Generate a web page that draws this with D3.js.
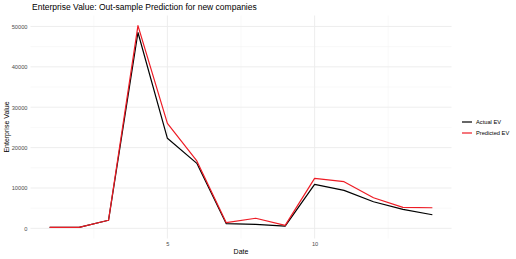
<!DOCTYPE html>
<html><head><meta charset="utf-8">
<script src="https://cdn.jsdelivr.net/npm/d3@7"></script>
<style>body{margin:0;background:#fff}svg{display:block;font-family:"Liberation Sans",Arial,sans-serif}</style>
</head><body>
<svg id="c" width="516" height="259"></svg>
<script>
const dates = [1,2,3,4,5,6,7,8,9,10,11,12,13,14];
const actualEV = [250,250,2000,48500,22300,16100,1150,1000,570,10900,9400,6600,4700,3370];
const predictedEV = [250,250,2000,50200,26000,16700,1400,2500,740,12370,11550,7580,5200,5100];
const yTicks = [0,10000,20000,30000,40000,50000];
const xTicks = [5,10];
const seriesNames = ["Actual EV","Predicted EV"];
const seriesColors = ["#000000","#ee1c25"];

const svg = d3.select("#c");
const L = 30.5, R = 451.5, T = 15.5, B = 238.5;
const x = d3.scaleLinear().domain([0.35,14.65]).range([L,R]);
const y = d3.scaleLinear().domain([-2510,52710]).range([B,T]);

const g = svg.append("g");
const yMinor = [5000,15000,25000,35000,45000];
const xMinor = [2.5,7.5,12.5];
g.selectAll(".ym").data(yMinor).join("line").attr("x1",L).attr("x2",R)
 .attr("y1",d=>y(d)).attr("y2",d=>y(d)).attr("stroke","#f2f2f2").attr("stroke-width",0.5);
g.selectAll(".xm").data(xMinor).join("line").attr("y1",T).attr("y2",B)
 .attr("x1",d=>x(d)).attr("x2",d=>x(d)).attr("stroke","#f2f2f2").attr("stroke-width",0.5);
g.selectAll(".yM").data(yTicks).join("line").attr("x1",L).attr("x2",R)
 .attr("y1",d=>y(d)).attr("y2",d=>y(d)).attr("stroke","#ebebeb").attr("stroke-width",0.9);
g.selectAll(".xM").data(xTicks).join("line").attr("y1",T).attr("y2",B)
 .attr("x1",d=>x(d)).attr("x2",d=>x(d)).attr("stroke","#ebebeb").attr("stroke-width",0.9);

const ya = svg.append("g").attr("transform",`translate(${L},0)`)
 .call(d3.axisLeft(y).tickValues(yTicks).tickSize(0).tickPadding(3).tickFormat(d3.format("d")));
const xa = svg.append("g").attr("transform",`translate(0,${B})`)
 .call(d3.axisBottom(x).tickValues(xTicks).tickSize(0).tickPadding(3));
[ya,xa].forEach(a=>{a.select(".domain").remove();
 a.selectAll("text").attr("fill","#4d4d4d").attr("font-size","5.7px").attr("font-family","Liberation Sans, Arial, sans-serif");});

const line = d3.line().x((d,i)=>x(dates[i])).y(d=>y(d));
[actualEV,predictedEV].forEach((s,k)=>{
 svg.append("path").attr("d",line(s)).attr("fill","none")
  .attr("stroke",seriesColors[k]).attr("stroke-width",1.2).attr("stroke-linejoin","round");
});

svg.append("text").attr("x",32).attr("y",10).attr("font-size","8.5px").attr("fill","#000")
 .text("Enterprise Value: Out-sample Prediction for new companies");
svg.append("text").attr("x",(L+R)/2).attr("y",253.5).attr("text-anchor","middle")
 .attr("font-size","7px").attr("fill","#000").text("Date");
svg.append("text").attr("transform",`translate(8.5,${(T+B)/2}) rotate(-90)`).attr("text-anchor","middle")
 .attr("font-size","7px").attr("fill","#000").text("Enterprise Value");

const lg = svg.append("g");
seriesNames.forEach((n,k)=>{
 const yy = 122 + k*11;
 lg.append("line").attr("x1",462).attr("x2",472).attr("y1",yy).attr("y2",yy)
  .attr("stroke",seriesColors[k]).attr("stroke-width",1.2);
 lg.append("text").attr("x",476).attr("y",yy+2).attr("font-size","5.7px").attr("fill","#000").text(n);
});
</script>
</body></html>
